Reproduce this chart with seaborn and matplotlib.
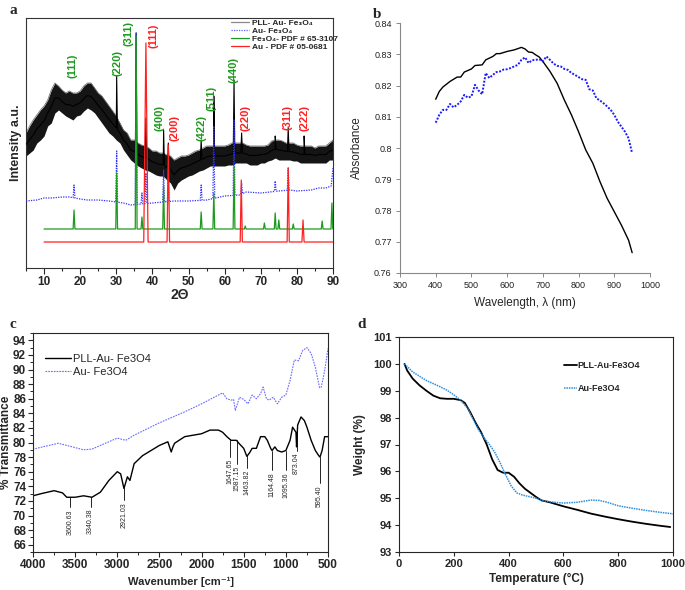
import numpy as np
import pandas as pd
import matplotlib
matplotlib.use("Agg")
import matplotlib.pyplot as plt
from matplotlib.lines import Line2D
from matplotlib.ticker import MultipleLocator
import seaborn as sns

# ---------------- Panel a: XRD ----------------
xrd_x = list(range(5, 91))
xrd_hi = [135, 142, 148, 153, 158, 162, 168, 178, 185, 182, 178, 175, 177, 175, 175, 177, 182, 185, 185, 180,
          175, 172, 167, 162, 157, 152, 145, 138, 135, 128, 128, 125, 123, 122, 120, 117, 117, 115, 115, 113,
          112, 108, 110, 112, 112, 113, 115, 117, 118, 120, 122, 122, 122, 122, 122, 122, 123, 125, 125, 125,
          125, 123, 122, 122, 122, 122, 122, 123, 127, 128, 128, 127, 125, 125, 125, 123, 122, 122, 122, 122,
          120, 122, 122, 122, 125, 128]
xrd_lo = [112, 115, 118, 125, 128, 132, 142, 145, 155, 158, 155, 152, 150, 148, 152, 153, 157, 160, 158, 155,
          150, 145, 140, 135, 132, 128, 125, 118, 113, 108, 105, 102, 100, 98, 97, 95, 93, 92, 92, 88,
          85, 78, 85, 88, 90, 92, 93, 95, 97, 98, 100, 102, 102, 102, 102, 102, 103, 103, 105, 105,
          105, 105, 103, 103, 103, 105, 105, 107, 108, 110, 108, 108, 108, 108, 107, 107, 105, 105, 105, 105,
          105, 105, 105, 105, 108, 108]
pll_peak_pos = [30.1, 35.5, 38.2, 43.1, 44.4, 53.5, 57.0, 62.6, 64.7, 74.0, 77.6, 82.0]
pll_peak_h = [192, 235, 150, 138, 125, 128, 172, 188, 135, 132, 140, 132]

aufe_base_x = [5, 8, 10, 12, 15, 17, 20, 22, 25, 28, 32, 34, 40, 46, 50, 55, 60, 64, 66, 70, 75, 78, 80, 84, 86, 88, 89.5, 90]
aufe_base_y = [67, 68, 70, 70, 71, 71, 69, 68, 68, 67, 65, 63, 65, 67, 67, 68, 72, 73, 76, 75, 77, 78, 77, 78, 80, 80, 82, 100]
aufe_peak_pos = [18.3, 30.1, 35.5, 37.1, 38.2, 43.1, 44.4, 53.5, 57.0, 62.6, 64.7, 74.0, 77.6]
aufe_peak_h = [83, 117, 235, 75, 95, 98, 90, 83, 142, 148, 85, 87, 100]

fe_base = 39
fe_pos = [18.3, 30.1, 35.5, 37.1, 43.1, 53.5, 57.0, 62.6, 65.7, 71.0, 74.0, 75.0, 79.0, 87.0, 89.7]
fe_h = [58, 95, 232, 51, 82, 56, 75, 102, 42, 45, 55, 48, 44, 47, 65]

au_base = 26
au_pos = [38.2, 44.4, 64.6, 77.6, 81.7]
au_h = [225, 123, 88, 100, 48]
au_w = [0.6, 0.35, 0.3, 0.3, 0.3]

hkl_text = ["(111)", "(220)", "(311)", "(111)", "(400)", "(200)", "(422)", "(511)", "(440)", "(220)", "(311)", "(222)"]
hkl_x = [18.0, 30.2, 33.4, 40.2, 42.0, 46.1, 53.6, 56.3, 62.5, 65.8, 77.5, 82.1]
hkl_y = [202, 205, 235, 232, 150, 140, 140, 170, 198, 150, 150, 150]
hkl_phase = ["Fe", "Fe", "Fe", "Au", "Fe", "Au", "Fe", "Fe", "Fe", "Au", "Au", "Au"]

# ---------------- Panel b: UV-Vis ----------------
uv_x_pll = [400, 410, 420, 440, 460, 470, 480, 500, 510, 530, 540, 560, 570, 580, 600, 620, 630, 640, 650, 660,
            670, 680, 690, 700, 720, 740, 760, 780, 800, 820, 840, 860, 880, 900, 920, 940, 950]
uv_y_pll = [0.8156, 0.8181, 0.8195, 0.8213, 0.8227, 0.8227, 0.8243, 0.8253, 0.8264, 0.8266, 0.8282, 0.8293,
            0.8302, 0.8302, 0.8309, 0.8314, 0.8318, 0.8322, 0.8317, 0.8307, 0.8306, 0.8298, 0.8291, 0.8277,
            0.8245, 0.8207, 0.8154, 0.8106, 0.8052, 0.7994, 0.7951, 0.7892, 0.7839, 0.7796, 0.7753, 0.7705, 0.7665]
uv_x_au = [400, 410, 420, 430, 440, 450, 460, 470, 480, 490, 500, 510, 520, 530, 540, 550, 560, 570, 580, 590,
           600, 610, 620, 630, 640, 650, 660, 670, 680, 690, 700, 710, 720, 730, 740, 750, 760, 770, 780, 790,
           800, 810, 820, 830, 840, 850, 860, 870, 880, 890, 900, 910, 920, 930, 940, 950]
uv_y_au = [0.8081, 0.8106, 0.8122, 0.8122, 0.8141, 0.8130, 0.8138, 0.8149, 0.8170, 0.8161, 0.8165, 0.8202,
           0.8184, 0.8172, 0.8240, 0.8224, 0.8234, 0.8243, 0.8245, 0.8251, 0.8252, 0.8256, 0.8261, 0.8266,
           0.8282, 0.8290, 0.8272, 0.8281, 0.8282, 0.8284, 0.8277, 0.8293, 0.8282, 0.8270, 0.8263, 0.8261,
           0.8253, 0.8250, 0.8240, 0.8234, 0.8227, 0.8220, 0.8218, 0.8188, 0.8184, 0.8159, 0.8152, 0.8143,
           0.8133, 0.8122, 0.8106, 0.8084, 0.8068, 0.8052, 0.8031, 0.7983]

# ---------------- Panel c: FTIR ----------------
ir_x_au = [4000, 3995, 3700, 3400, 3300, 3000, 2900, 2800, 2500, 2200, 2000, 1800, 1750, 1700, 1650, 1620, 1600,
           1550, 1500, 1450, 1400, 1350, 1300, 1270, 1230, 1200, 1150, 1100, 1050, 1000, 950, 900, 850, 800,
           750, 700, 650, 600, 580, 550, 520, 500]
ir_y_au = [72.9, 79.1, 79.9, 79.0, 79.1, 80.6, 80.3, 81.0, 82.7, 84.2, 85.3, 86.5, 86.8, 86.0, 85.8, 85.9, 84.4,
           86.2, 85.9, 85.3, 86.5, 86.0, 86.7, 87.6, 86.0, 85.8, 86.2, 85.3, 86.2, 86.5, 88.5, 91.3, 91.2, 92.6,
           93.0, 92.2, 90.3, 87.5, 87.6, 89.2, 91.3, 92.9]
ir_x_pll = [4000, 3900, 3750, 3650, 3600, 3500, 3400, 3300, 3200, 3100, 3000, 2960, 2921, 2880, 2850, 2800, 2700,
            2600, 2500, 2400, 2360, 2340, 2320, 2200, 2100, 2000, 1900, 1800, 1750, 1700, 1650, 1587, 1550,
            1500, 1463, 1430, 1400, 1350, 1300, 1250, 1220, 1180, 1164, 1130, 1100, 1050, 1000, 950, 920, 880,
            873, 860, 820, 780, 750, 700, 650, 610, 595, 570, 540, 500]
ir_y_pll = [72.7, 73.0, 73.4, 73.1, 72.5, 72.5, 72.7, 72.5, 73.2, 74.8, 76.0, 75.7, 73.7, 75.3, 74.8, 77.1, 78.2,
            78.9, 79.6, 80.1, 78.7, 79.4, 79.9, 80.8, 81.0, 81.2, 81.7, 81.7, 81.4, 80.8, 80.3, 80.3, 79.8,
            79.2, 78.1, 78.6, 79.2, 79.2, 80.8, 80.8, 80.3, 79.2, 78.9, 79.4, 78.9, 78.7, 78.9, 80.3, 82.1, 81.4,
            79.4, 82.4, 83.5, 83.0, 82.1, 80.3, 78.9, 78.2, 78.0, 78.9, 80.8, 80.8]
ir_lab_text = ["3600.63", "3340.38", "2921.03", "1647.65", "1587.15", "1463.82", "1164.48", "1095.36", "873.04", "595.40"]
ir_lab_x = [3563, 3317, 2921, 1662, 1576, 1460, 1163, 1004, 873, 599]
ir_line_top = [72.5, 72.5, 73.7, 80.3, 80.3, 78.1, 78.9, 78.9, 82.0, 78.0]
ir_line_bot = [71.1, 71.2, 72.1, 78.0, 77.0, 76.5, 76.2, 76.2, 78.9, 74.4]

# ---------------- Panel d: TGA ----------------
tga_x_pll = [20, 30, 50, 75, 100, 125, 150, 175, 200, 225, 240, 260, 280, 300, 320, 340, 360, 380, 400, 420,
             440, 460, 480, 500, 520, 550, 600, 650, 700, 750, 800, 850, 900, 950, 990]
tga_y_pll = [100.0, 99.75, 99.45, 99.2, 99.0, 98.82, 98.72, 98.7, 98.7, 98.65, 98.55, 98.2, 97.8, 97.45, 97.0,
             96.45, 96.05, 95.95, 95.95, 95.8, 95.55, 95.35, 95.2, 95.05, 94.92, 94.85, 94.7, 94.57, 94.43,
             94.32, 94.22, 94.13, 94.05, 93.98, 93.93]
tga_x_au = [20, 50, 100, 150, 175, 200, 225, 250, 270, 290, 310, 330, 350, 370, 390, 410, 430, 450, 480, 500,
            520, 550, 600, 650, 700, 730, 760, 800, 850, 900, 950, 1000]
tga_y_au = [100.0, 99.7, 99.38, 99.15, 99.02, 98.85, 98.65, 98.35, 97.95, 97.55, 97.25, 97.0, 96.7, 96.3,
            95.85, 95.45, 95.2, 95.12, 95.05, 95.0, 94.92, 94.87, 94.82, 94.85, 94.93, 94.92, 94.85, 94.72,
            94.63, 94.55, 94.48, 94.42]

# ================= drawing =================
sns.set_theme(style="ticks")
plt.rcParams["font.family"] = ["Liberation Sans", "DejaVu Sans"]
plt.rcParams["axes.linewidth"] = 0.8

W, H = 685, 590
fig = plt.figure(figsize=(6.85, 5.9), dpi=100)


def rect(l, t, r, b):
    return [l / W, 1 - b / H, (r - l) / W, (b - t) / H]


def line(ax, x, y, **kw):
    df = pd.DataFrame({"x": x, "y": y})
    sns.lineplot(data=df, x="x", y="y", ax=ax, sort=False, estimator=None, **kw)


def with_peaks(bx, by, pos, h, widths):
    xs, ys = list(bx), list(by)
    for p, hh, w in zip(pos, h, widths):
        b0 = float(np.interp(p - w, bx, by))
        b1 = float(np.interp(p + w, bx, by))
        xs += [p - w, p, p + w]
        ys += [b0, hh, b1]
    order = np.argsort(xs, kind="stable")
    return [xs[i] for i in order], [ys[i] for i in order]


GREEN = "#1e9a1e"
RED = "#ff2020"

# ---- a ----
axa = fig.add_axes(rect(26, 18, 333, 268))
axa.fill_between(xrd_x, xrd_lo, xrd_hi, color="#151515", lw=0, zorder=2)
axa.plot(xrd_x, xrd_hi, color="#777777", lw=0.6, zorder=2)
yc = [(a + b) / 2 for a, b in zip(xrd_hi, xrd_lo)]
px, py = with_peaks(xrd_x, yc, pll_peak_pos, pll_peak_h, [0.22] * len(pll_peak_pos))
line(axa, px, py, color="black", lw=0.8, zorder=3)
bx, by = with_peaks(aufe_base_x, aufe_base_y, aufe_peak_pos, aufe_peak_h, [0.25] * len(aufe_peak_pos))
line(axa, bx, by, color="#3030ff", lw=0.9, linestyle=(0, (1, 1)), zorder=4)
gx, gy = with_peaks([10, 90], [fe_base, fe_base], fe_pos, fe_h, [0.25] * len(fe_pos))
line(axa, gx, gy, color=GREEN, lw=0.9, zorder=5)
rx, ry = with_peaks([10, 90], [au_base, au_base], au_pos, au_h, au_w)
line(axa, rx, ry, color=RED, lw=0.9, zorder=6)
for t, x, y, ph in zip(hkl_text, hkl_x, hkl_y, hkl_phase):
    axa.text(x, y, t, rotation=90, ha="center", va="center", fontsize=8, fontweight="bold",
             color=GREEN if ph == "Fe" else RED, zorder=7)
axa.set_xlim(5, 90)
axa.set_ylim(0, 250)
axa.set_xticks(range(10, 91, 10))
axa.xaxis.set_minor_locator(MultipleLocator(5))
axa.set_yticks([])
axa.tick_params(axis="x", which="major", direction="out", length=4, width=0.8, labelsize=8.5, pad=2)
axa.tick_params(axis="x", which="minor", direction="out", length=2.5, width=0.8)
for lab in axa.get_xticklabels():
    lab.set_fontweight("bold")
axa.set_xlabel("2Θ", fontsize=10, fontweight="bold", labelpad=0)
axa.set_ylabel("Intensity a.u.", fontsize=9, fontweight="bold", labelpad=3)
for s in axa.spines.values():
    s.set_color("#333333")
handles = [Line2D([], [], color="#888888", lw=0.9),
           Line2D([], [], color="#6060ff", lw=0.9, linestyle=(0, (1, 1))),
           Line2D([], [], color=GREEN, lw=0.9),
           Line2D([], [], color=RED, lw=0.9)]
labels = ["PLL- Au- Fe₃O₄", "Au- Fe₃O₄", "Fe₃O₄- PDF # 65-3107", "Au - PDF # 05-0681"]
leg = axa.legend(handles, labels, loc="upper left", bbox_to_anchor=(230 / W, 1 - 18 / H),
                 bbox_transform=fig.transFigure, frameon=False, fontsize=6, handlelength=2.2,
                 handletextpad=0.3, labelspacing=0.05, borderpad=0.1, borderaxespad=0)
for t in leg.get_texts():
    t.set_fontweight("bold")
fig.text(10 / W, 1 - 10 / H, "a", fontsize=11, fontweight="bold", family="Liberation Serif", va="center")

# ---- b ----
axb = fig.add_axes(rect(400, 23, 650, 273))
line(axb, uv_x_pll, uv_y_pll, color="black", lw=1.0)
line(axb, uv_x_au, uv_y_au, color="#1a1aff", lw=1.4, linestyle=(0, (1, 0.8)))
axb.set_xlim(300, 1000)
axb.set_ylim(0.76, 0.84)
axb.set_xticks(range(300, 1001, 100))
axb.set_yticks(np.round(np.arange(0.76, 0.8401, 0.01), 2))
axb.yaxis.set_major_formatter(matplotlib.ticker.FuncFormatter(lambda v, p: f"{v:g}"))
axb.spines["top"].set_visible(False)
axb.spines["right"].set_visible(False)
for s in ["left", "bottom"]:
    axb.spines[s].set_color("#888888")
    axb.spines[s].set_linewidth(0.8)
axb.tick_params(direction="out", length=3, width=0.7, color="#888888", labelsize=6.5, labelcolor="#222222", pad=3)
axb.set_xlabel("Wavelength, λ (nm)", fontsize=8.5, labelpad=5)
axb.set_ylabel("Absorbance", fontsize=8.5, labelpad=8)
fig.text(373 / W, 1 - 14 / H, "b", fontsize=11, fontweight="bold", family="Liberation Serif", va="center")

# ---- c ----
axc = fig.add_axes(rect(33, 333, 328, 552))
line(axc, ir_x_pll, ir_y_pll, color="black", lw=1.0, label="PLL-Au- Fe3O4")
line(axc, ir_x_au, ir_y_au, color="#6a6aff", lw=0.8, linestyle=(0, (1.5, 1)), label="Au- Fe3O4")
for t, x, y0, y1 in zip(ir_lab_text, ir_lab_x, ir_line_top, ir_line_bot):
    axc.plot([x, x], [y0, y1], color="black", lw=0.6)
    axc.text(x, y1 - 0.25, t, rotation=90, ha="center", va="top", fontsize=5)
axc.set_xlim(4000, 500)
axc.set_ylim(65, 95)
axc.set_xticks(range(4000, 499, -500))
axc.xaxis.set_minor_locator(MultipleLocator(250))
axc.set_yticks(range(66, 95, 2))
axc.yaxis.set_minor_locator(MultipleLocator(1))
axc.tick_params(which="major", direction="out", length=3.5, width=0.8, labelsize=8.5, pad=1.5)
axc.tick_params(which="minor", direction="out", length=2, width=0.7)
for lab in axc.get_xticklabels() + axc.get_yticklabels():
    lab.set_fontweight("bold")
axc.set_xlabel("Wavenumber [cm⁻¹]", fontsize=8, fontweight="bold", labelpad=4)
axc.set_ylabel("% Transmittance", fontsize=8.5, fontweight="bold", labelpad=1)
axc.legend(loc="upper left", bbox_to_anchor=(44 / W, 1 - 353 / H), bbox_transform=fig.transFigure,
           frameon=False, fontsize=8, handlelength=2.3, handletextpad=0.2, labelspacing=0.25,
           borderpad=0.1, borderaxespad=0)
fig.text(10 / W, 1 - 325 / H, "c", fontsize=11, fontweight="bold", family="Liberation Serif", va="center")

# ---- d ----
axd = fig.add_axes(rect(399, 337, 673, 552))
line(axd, tga_x_pll, tga_y_pll, color="black", lw=1.3, label="PLL-Au-Fe3O4")
line(axd, tga_x_au, tga_y_au, color="#2f8fdc", lw=1.1, linestyle=(0, (1, 0.6)), label="Au-Fe3O4")
axd.set_xlim(0, 1000)
axd.set_ylim(93, 101)
axd.set_xticks(range(0, 1001, 200))
axd.set_yticks(range(93, 102))
axd.tick_params(direction="out", length=3, width=0.8, labelsize=8, pad=2)
for lab in axd.get_xticklabels() + axd.get_yticklabels():
    lab.set_fontweight("bold")
axd.set_xlabel("Temperature (°C)", fontsize=8.5, fontweight="bold", labelpad=3)
axd.set_ylabel("Weight (%)", fontsize=8.5, fontweight="bold", labelpad=5)
legd = axd.legend(loc="upper left", bbox_to_anchor=(563 / W, 1 - 360 / H), bbox_transform=fig.transFigure,
                  frameon=False, fontsize=6.5, handlelength=1.4, handletextpad=0.1, labelspacing=1.6,
                  borderpad=0.1, borderaxespad=0)
for t in legd.get_texts():
    t.set_fontweight("bold")
fig.text(357 / W, 1 - 325 / H, "d", fontsize=11, fontweight="bold", family="Liberation Serif", va="center")

fig.savefig("out.png", dpi=100)
